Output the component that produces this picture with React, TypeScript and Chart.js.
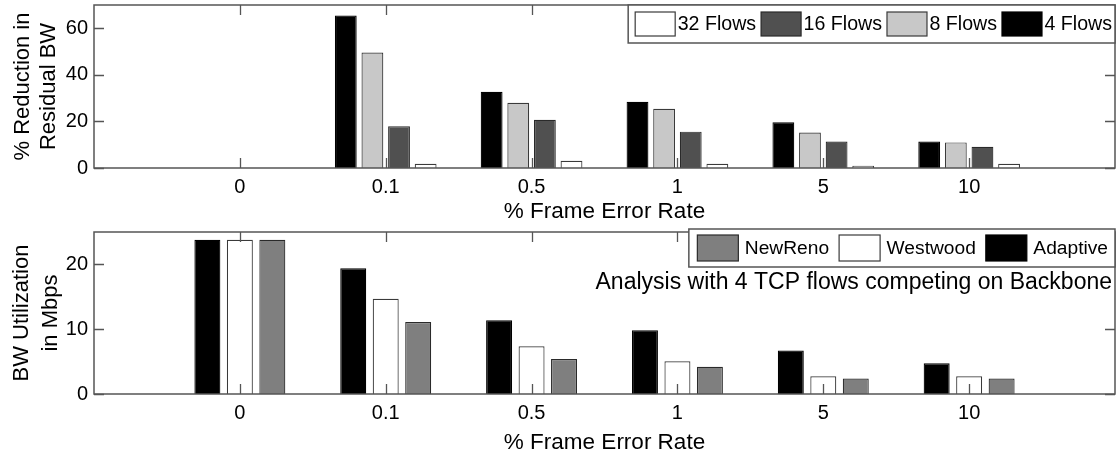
import React, { useEffect, useRef } from 'react';
import { Chart, registerables } from 'chart.js';

Chart.register(...registerables);

// ---- data ----
const errorRates = ['', '0', '0.1', '0.5', '1', '5', '10', ''];

const flows4 = [null, 0, 65.5, 32.7, 28.4, 19.7, 11.4, null];
const flows8 = [null, 0, 49.6, 28.0, 25.4, 15.2, 11.0, null];
const flows16 = [null, 0, 17.9, 20.7, 15.6, 11.4, 9.1, null];
const flows32 = [null, 0, 1.8, 3.1, 1.8, 1.0, 1.8, null];

const adaptive = [null, 23.8, 19.4, 11.4, 9.85, 6.7, 4.75, null];
const westwood = [null, 23.8, 14.7, 7.35, 5.05, 2.75, 2.75, null];
const newReno = [null, 23.8, 11.1, 5.4, 4.2, 2.4, 2.4, null];

const topYTicks = [0, 20, 40, 60];
const bottomYTicks = [0, 10, 20];

const noteText = 'Analysis with 4 TCP flows competing on Backbone';

const FONT = '"Liberation Sans", Arial, Helvetica, sans-serif';

// ---- plugins ----
const boxPlugin = {
  id: 'matlabBox',
  afterDatasetsDraw(chart: any) {
    const { ctx, chartArea, scales } = chart;
    const { left, right, top, bottom } = chartArea;
    const x = scales.x;
    const y = scales.y;
    const tl = 10;
    ctx.save();
    ctx.strokeStyle = '#555';
    ctx.lineWidth = 1.3;
    ctx.beginPath();
    errorRates.forEach((lab, i) => {
      if (!lab) return;
      const px = Math.round(x.getPixelForTick(i)) + 0.5;
      ctx.moveTo(px, bottom);
      ctx.lineTo(px, bottom - tl);
      ctx.moveTo(px, top);
      ctx.lineTo(px, top + tl);
    });
    y.ticks.forEach((t: any) => {
      const py = Math.round(y.getPixelForValue(t.value)) + 0.5;
      ctx.moveTo(left, py);
      ctx.lineTo(left + tl, py);
      ctx.moveTo(right, py);
      ctx.lineTo(right - tl, py);
    });
    ctx.stroke();
    ctx.lineWidth = 1.5;
    ctx.strokeRect(left, top, right - left, bottom - top);
    ctx.restore();
  },
};

const legendPlugin = {
  id: 'boxLegend',
  afterDraw(chart: any, _args: any, opts: any) {
    if (!opts || !opts.enabled) return;
    const { ctx, chartArea } = chart;
    const items = chart.data.datasets
      .map((d: any) => ({ label: d.label, fill: d.backgroundColor, stroke: d.borderColor }))
      .reverse();
    ctx.save();
    ctx.font = `${opts.fontSize}px ${FONT}`;
    const widths = items.map((it: any) => ctx.measureText(it.label).width);
    let total = opts.padL + opts.padR;
    items.forEach((_it: any, i: number) => {
      total += opts.swW + opts.gapST + widths[i];
      if (i < items.length - 1) total += opts.gapTS;
    });
    const right = chartArea.right;
    const left = right - total;
    const top = chartArea.top + opts.dy;
    ctx.fillStyle = '#fff';
    ctx.fillRect(left, top, total, opts.h);
    ctx.strokeStyle = '#555';
    ctx.lineWidth = 1.5;
    ctx.strokeRect(left, top, total, opts.h);
    let x = left + opts.padL;
    const cy = top + opts.h / 2;
    items.forEach((it: any, i: number) => {
      ctx.fillStyle = it.fill;
      ctx.fillRect(x, cy - opts.swH / 2, opts.swW, opts.swH);
      ctx.strokeStyle = it.stroke;
      ctx.lineWidth = 1.2;
      ctx.strokeRect(x, cy - opts.swH / 2, opts.swW, opts.swH);
      x += opts.swW + opts.gapST;
      ctx.fillStyle = '#000';
      ctx.textBaseline = 'middle';
      ctx.textAlign = 'left';
      ctx.fillText(it.label, x, cy + 1);
      x += widths[i] + opts.gapTS;
    });
    if (opts.note) {
      ctx.font = `${opts.note.fontSize}px ${FONT}`;
      ctx.textAlign = 'right';
      ctx.textBaseline = 'middle';
      ctx.fillStyle = '#000';
      ctx.fillText(opts.note.text, chartArea.right + opts.note.dx, chartArea.top + opts.note.dy);
    }
    ctx.restore();
  },
};

function makeOptions(cfg: any) {
  return {
    responsive: false,
    animation: false,
    layout: { padding: { top: cfg.padTop, right: 1, left: 0, bottom: 0 } },
    datasets: {
      bar: { categoryPercentage: cfg.catPct, barPercentage: cfg.barPct },
    },
    plugins: {
      legend: { display: false },
      tooltip: { enabled: false },
      boxLegend: cfg.legend,
    },
    scales: {
      x: {
        type: 'category',
        offset: false,
        grid: { display: false, drawTicks: false },
        border: { display: false },
        ticks: {
          autoSkip: false,
          maxRotation: 0,
          padding: 7,
          color: '#000',
          font: { family: FONT, size: 20 },
        },
        title: {
          display: true,
          text: '% Frame Error Rate',
          color: '#000',
          font: { family: FONT, size: 22.5, lineHeight: 0.9 },
          padding: { top: 0, bottom: cfg.xTitlePad },
        },
        afterFit: (s: any) => {
          s.height = cfg.xHeight;
          s.paddingLeft = 0;
          s.paddingRight = 0;
        },
      },
      y: {
        type: 'linear',
        min: 0,
        max: cfg.yMax,
        grid: { display: false, drawTicks: false },
        border: { display: false },
        afterBuildTicks: (s: any) => {
          s.ticks = cfg.yTicks.map((v: number) => ({ value: v }));
        },
        ticks: {
          padding: 6,
          color: '#000',
          font: { family: FONT, size: 20 },
        },
        title: {
          display: true,
          text: cfg.yTitle,
          color: '#000',
          font: { family: FONT, size: 22, lineHeight: cfg.yTitleLH },
          padding: { top: cfg.yTitlePad, bottom: 0 },
        },
        afterFit: (s: any) => {
          s.width = 94;
          s.paddingTop = 0;
          s.paddingBottom = 0;
        },
      },
    },
  };
}

function BarPanel(props: { width: number; height: number; config: any }) {
  const ref = useRef<HTMLCanvasElement | null>(null);
  useEffect(() => {
    if (!ref.current) return;
    const chart = new Chart(ref.current, props.config);
    return () => chart.destroy();
  }, []);
  return (
    <canvas
      ref={ref}
      width={props.width}
      height={props.height}
      style={{ display: 'block', width: props.width, height: props.height }}
    />
  );
}

const topConfig: any = {
  type: 'bar',
  data: {
    labels: errorRates,
    datasets: [
      { label: '4 Flows', data: flows4, backgroundColor: '#000000', borderColor: '#000000', borderWidth: 1.2 },
      { label: '8 Flows', data: flows8, backgroundColor: '#c8c8c8', borderColor: '#3a3a3a', borderWidth: 1.2 },
      { label: '16 Flows', data: flows16, backgroundColor: '#505050', borderColor: '#2a2a2a', borderWidth: 1.2 },
      { label: '32 Flows', data: flows32, backgroundColor: '#ffffff', borderColor: '#3a3a3a', borderWidth: 1.2 },
    ],
  },
  options: makeOptions({
    padTop: 5,
    catPct: 0.73,
    barPct: 0.82,
    xHeight: 54,
    xTitlePad: 0,
    yMax: 70,
    yTicks: topYTicks,
    yTitle: ['% Reduction in', 'Residual BW'],
    yTitleLH: 26 / 22,
    yTitlePad: 10,
    legend: {
      enabled: true,
      fontSize: 19.6,
      swW: 40,
      swH: 24,
      padL: 7,
      padR: 3,
      gapST: 2.5,
      gapTS: 5,
      dy: 0,
      h: 38,
    },
  }),
  plugins: [boxPlugin, legendPlugin],
};

const bottomConfig: any = {
  type: 'bar',
  data: {
    labels: errorRates,
    datasets: [
      { label: 'Adaptive', data: adaptive, backgroundColor: '#000000', borderColor: '#000000', borderWidth: 1.2 },
      { label: 'Westwood', data: westwood, backgroundColor: '#ffffff', borderColor: '#3a3a3a', borderWidth: 1.2 },
      { label: 'NewReno', data: newReno, backgroundColor: '#7f7f7f', borderColor: '#2a2a2a', borderWidth: 1.2 },
    ],
  },
  options: makeOptions({
    padTop: 10,
    catPct: 0.668,
    barPct: 0.8,
    xHeight: 62,
    xTitlePad: 3,
    yMax: 25,
    yTicks: bottomYTicks,
    yTitle: ['BW Utilization', 'in Mbps'],
    yTitleLH: 29 / 22,
    yTitlePad: 7,
    legend: {
      enabled: true,
      fontSize: 19.2,
      swW: 41,
      swH: 26,
      padL: 8.5,
      padR: 7,
      gapST: 6.5,
      gapTS: 10,
      dy: -3,
      h: 38,
      note: { text: noteText, fontSize: 23, dx: -3, dy: 51 },
    },
  }),
  plugins: [boxPlugin, legendPlugin],
};

export default function App() {
  return (
    <div
      style={{
        position: 'absolute',
        left: 0,
        top: 0,
        width: 1116,
        height: 456,
        background: '#fff',
      }}
    >
      <BarPanel width={1116} height={222} config={topConfig} />
      <BarPanel width={1116} height={234} config={bottomConfig} />
    </div>
  );
}
